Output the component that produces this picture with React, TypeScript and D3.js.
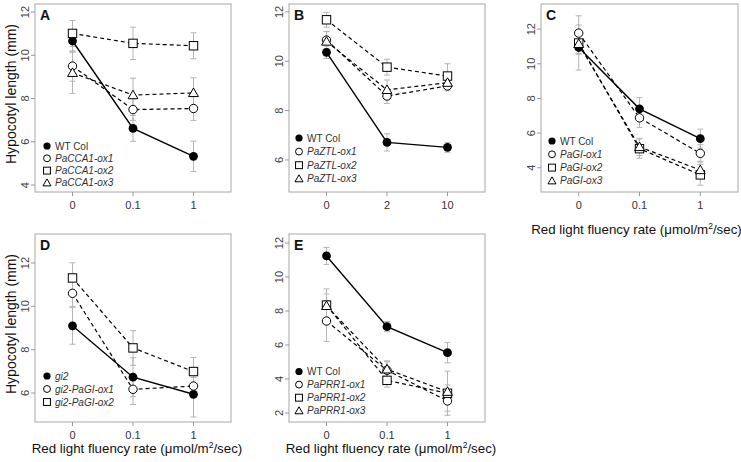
import * as d3 from "d3";

// tick labels on x
const fluencyTicks = ["0", "0.1", "1"];
const blueTicks = ["0", "2", "10"];

// legend names
const namesA = ["WT Col", "PaCCA1-ox1", "PaCCA1-ox2", "PaCCA1-ox3"];
const namesB = ["WT Col", "PaZTL-ox1", "PaZTL-ox2", "PaZTL-ox3"];
const namesC = ["WT Col", "PaGI-ox1", "PaGI-ox2", "PaGI-ox3"];
const namesD = ["gi2", "gi2-PaGI-ox1", "gi2-PaGI-ox2"];
const namesE = ["WT Col", "PaPRR1-ox1", "PaPRR1-ox2", "PaPRR1-ox3"];

// panel A values (mm) and errors
const aMeans = [
  [10.66, 6.62, 5.33],
  [9.5, 7.49, 7.54],
  [11.01, 10.55, 10.44],
  [9.19, 8.16, 8.26],
];
const aErrs = [
  [0.5, 0.6, 0.7],
  [0.7, 0.5, 0.55],
  [0.6, 0.75, 0.6],
  [0.95, 0.78, 0.7],
];

// panel B
const bMeans = [
  [10.36, 6.71, 6.51],
  [10.86, 8.59, 9.0],
  [11.68, 9.76, 9.4],
  [10.8, 8.84, 9.13],
];
const bErrs = [
  [0.25, 0.35, 0.2],
  [0.35, 0.3, 0.2],
  [0.3, 0.32, 0.5],
  [0.4, 0.4, 0.25],
];

// panel C
const cMeans = [
  [10.94, 7.4, 5.68],
  [11.77, 6.88, 4.83],
  [11.2, 5.1, 3.59],
  [11.15, 5.2, 3.87],
];
const cErrs = [
  [1.3, 0.65, 0.55],
  [1.0, 0.55, 0.5],
  [0.6, 0.55, 0.6],
  [0.6, 0.5, 0.5],
];

// panel D
const dMeans = [
  [9.1, 6.73, 5.94],
  [10.6, 6.17, 6.32],
  [11.31, 8.08, 6.99],
];
const dErrs = [
  [0.85, 0.9, 1.05],
  [0.6, 0.7, 0.4],
  [0.7, 0.8, 0.65],
];

// panel E
const eMeans = [
  [11.24, 7.08, 5.55],
  [7.41, 4.51, 2.71],
  [8.35, 3.92, 3.16],
  [8.3, 4.57, 3.25],
];
const eErrs = [
  [0.5, 0.3, 0.6],
  [1.2, 0.5, 0.6],
  [0.95, 0.4, 1.3],
  [0.7, 0.5, 0.4],
];

const shapes = ["filled", "circle", "square", "triangle"];

const FONT = "'Liberation Sans', Arial, Helvetica, sans-serif";

type PanelProps = {
  letter: string;
  left: number;
  top: number;
  width: number;
  height: number;
  xTicks: string[];
  yDomain: [number, number];
  yTicks: number[];
  names: string[];
  means: number[][];
  errs: number[][];
  legendX: number;
  legendY: number;
  legendGap: number;
  yTitle?: boolean;
  xTitleY?: number;
  xTitleDx?: number;
};

const Marker = ({ shape, x, y, k = 1 }: { shape: string; x: number; y: number; k?: number }) => {
  if (shape === "filled") return <circle cx={x} cy={y} r={4.4 * k} fill="#000" />;
  if (shape === "circle")
    return <circle cx={x} cy={y} r={4.2 * k} fill="#fff" stroke="#000" strokeWidth={1} />;
  if (shape === "square")
    return (
      <rect
        x={x - 4.2 * k}
        y={y - 4.2 * k}
        width={8.4 * k}
        height={8.4 * k}
        fill="#fff"
        stroke="#000"
        strokeWidth={1}
      />
    );
  const tri = d3.symbol().type(d3.symbolTriangle).size(42 * k * k)();
  return (
    <path d={tri} transform={`translate(${x},${y + 0.8 * k})`} fill="#fff" stroke="#000" strokeWidth={1} />
  );
};

const Panel = (p: PanelProps) => {
  const x = d3.scaleLinear().domain([-0.62, 2.62]).range([p.left, p.left + p.width]);
  const y = d3.scaleLinear().domain(p.yDomain).range([p.top + p.height, p.top]);
  const line = d3
    .line<number>()
    .x((_, i) => x(i))
    .y((v) => y(v));
  const bottom = p.top + p.height;
  return (
    <g fontFamily={FONT}>
      {/* error bars */}
      {p.means.map((s, si) =>
        s.map((v, i) => {
          const e = p.errs[si][i];
          const cx = x(i);
          return (
            <g key={`e${si}-${i}`} stroke="#b5b5b5" strokeWidth={1}>
              <line x1={cx} x2={cx} y1={y(v + e)} y2={y(v - e)} />
              <line x1={cx - 3} x2={cx + 3} y1={y(v + e)} y2={y(v + e)} />
              <line x1={cx - 3} x2={cx + 3} y1={y(v - e)} y2={y(v - e)} />
            </g>
          );
        })
      )}
      {/* lines */}
      {p.means.map((s, si) => (
        <path
          key={`l${si}`}
          d={line(s) ?? ""}
          fill="none"
          stroke="#000"
          strokeWidth={si === 0 ? 1.4 : 1.2}
          strokeDasharray={si === 0 ? undefined : "4,3"}
        />
      ))}
      {/* points */}
      {p.means.map((s, si) =>
        s.map((v, i) => <Marker key={`p${si}-${i}`} shape={shapes[si]} x={x(i)} y={y(v)} />)
      )}
      {/* box */}
      <rect x={p.left} y={p.top} width={p.width} height={p.height} fill="none" stroke="#a8a8a8" strokeWidth={1} />
      {/* y axis */}
      {p.yTicks.map((t) => (
        <g key={`y${t}`}>
          <line x1={p.left - 4} x2={p.left} y1={y(t)} y2={y(t)} stroke="#999" />
          <text
            transform={`translate(${p.left - 6.5},${y(t)}) rotate(-90)`}
            textAnchor="middle"
            fontSize={11}
            fill="#444"
          >
            {t}
          </text>
        </g>
      ))}
      {/* x axis */}
      {p.xTicks.map((t, i) => (
        <g key={`x${t}`}>
          <line x1={x(i)} x2={x(i)} y1={bottom} y2={bottom + 4} stroke="#999" />
          <text x={x(i)} y={bottom + 17} textAnchor="middle" fontSize={11} fill="#333">
            {t}
          </text>
        </g>
      ))}
      <text x={p.left + 5} y={p.top + 16} fontSize={14} fontWeight="bold" fill="#111">
        {p.letter}
      </text>
      {/* legend */}
      {p.names.map((n, i) => {
        const ly = p.legendY + i * p.legendGap;
        const italic = !(n === "WT Col");
        return (
          <g key={`lg${i}`}>
            <Marker shape={shapes[i]} x={p.legendX} y={ly} k={0.82} />
            <text
              x={p.legendX + 8}
              y={ly + 3.5}
              fontSize={10}
              fontStyle={italic ? "italic" : "normal"}
              fill="#333"
            >
              {n}
            </text>
          </g>
        );
      })}
      {p.yTitle && (
        <text
          transform={`translate(${p.left - 19},${p.top + p.height / 2 - 4}) rotate(-90)`}
          textAnchor="middle"
          fontSize={14}
          fill="#111"
        >
          Hypocotyl length (mm)
        </text>
      )}
      {p.xTitleY !== undefined && (
        <text
          x={p.left + p.width / 2 + (p.xTitleDx ?? 4)}
          y={p.xTitleY}
          textAnchor="middle"
          fontSize={13.3}
          fill="#111"
        >
          Red light fluency rate (μmol/m
          <tspan dy={-5} fontSize={8.5}>
            2
          </tspan>
          <tspan dy={5}>/sec)</tspan>
        </text>
      )}
    </g>
  );
};

const App = () => {
  return (
    <svg
      width={741}
      height={462}
      style={{ position: "absolute", left: 0, top: 0, background: "#fff" }}
    >
      <Panel
        letter="A" left={35} top={4} width={196} height={188}
        xTicks={fluencyTicks} yDomain={[3.68, 12.37]} yTicks={[4, 6, 8, 10, 12]}
        names={namesA} means={aMeans} errs={aErrs}
        legendX={47} legendY={146} legendGap={12.3} yTitle
      />
      <Panel
        letter="B" left={289} top={4} width={196} height={188}
        xTicks={blueTicks} yDomain={[4.7, 12.32]} yTicks={[6, 8, 10, 12]}
        names={namesB} means={bMeans} errs={bErrs}
        legendX={299} legendY={138} legendGap={13.6}
      />
      <Panel
        letter="C" left={541} top={4} width={197} height={188}
        xTicks={fluencyTicks} yDomain={[2.6, 13.45]} yTicks={[4, 6, 8, 10, 12]}
        names={namesC} means={cMeans} errs={cErrs}
        legendX={552} legendY={141} legendGap={13.3} xTitleY={234} xTitleDx={-3}
      />
      <Panel
        letter="D" left={35} top={234} width={196} height={188}
        xTicks={fluencyTicks} yDomain={[4.66, 13.34]} yTicks={[6, 8, 10, 12]}
        names={namesD} means={dMeans} errs={dErrs}
        legendX={47} legendY={376} legendGap={13} yTitle xTitleY={453}
      />
      <Panel
        letter="E" left={289} top={234} width={196} height={188}
        xTicks={fluencyTicks} yDomain={[1.47, 12.53]} yTicks={[2, 4, 6, 8, 10, 12]}
        names={namesE} means={eMeans} errs={eErrs}
        legendX={299} legendY={371.5} legendGap={13.1} xTitleY={453}
      />
    </svg>
  );
};

export default App;
